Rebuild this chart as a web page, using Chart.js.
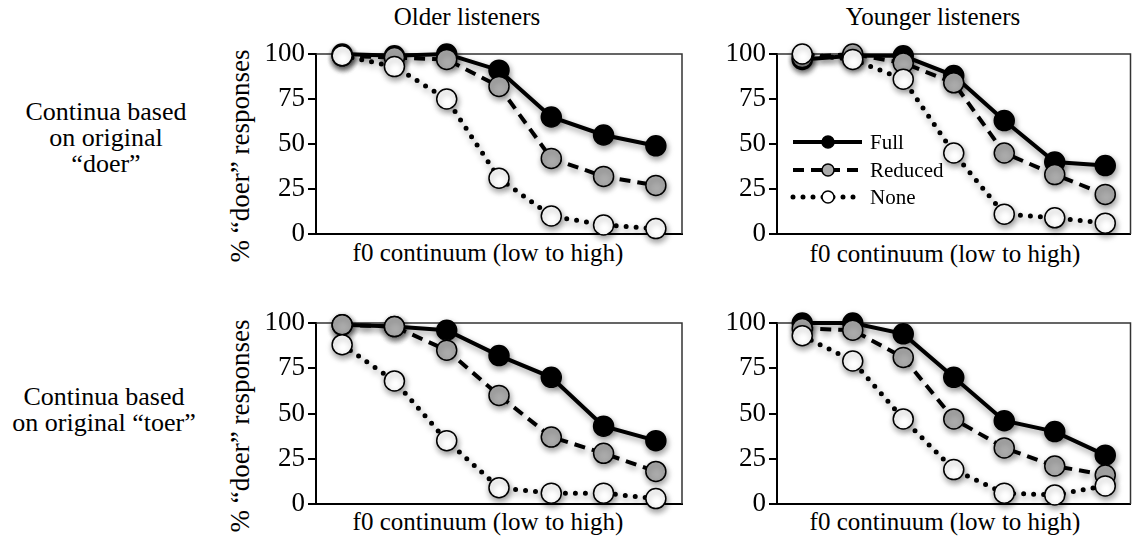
<!DOCTYPE html>
<html>
<head>
<meta charset="utf-8">
<script src="https://cdn.jsdelivr.net/npm/chart.js@4.4.0/dist/chart.umd.min.js"></script>
<style>
body{margin:0;background:#fff;width:1142px;height:541px;position:relative;overflow:hidden;font-family:"Liberation Serif","Times New Roman",serif;color:#000}
canvas{position:absolute}
.lbl{position:absolute;font-size:26px;line-height:26px;text-align:center;white-space:nowrap;transform:translateX(-50%)}
.col{position:absolute;font-size:25px;line-height:27px;white-space:nowrap;transform:translateX(-50%)}
.xtitle{position:absolute;font-size:25px;line-height:30px;white-space:nowrap;transform:translate(-50%,-50%)}
.ytitle{position:absolute;font-size:27px;line-height:30px;white-space:nowrap;transform:translate(-50%,-50%) rotate(-90deg)}
</style>
</head>
<body>
<div class="col" style="left:467px;top:3px">Older listeners</div>
<div class="col" style="left:933px;top:3px">Younger listeners</div>
<div class="lbl" style="left:106px;top:99px">Continua based<br>on original<br>“doer”</div>
<div class="lbl" style="left:104px;top:384px">Continua based<br>on original “toer”</div>
<div class="ytitle" style="left:240px;top:156px">% “doer” responses</div>
<div class="ytitle" style="left:240px;top:426px">% “doer” responses</div>
<div class="xtitle" style="left:488px;top:253px">f0 continuum (low to high)</div>
<div class="xtitle" style="left:945px;top:254px">f0 continuum (low to high)</div>
<div class="xtitle" style="left:488px;top:522px">f0 continuum (low to high)</div>
<div class="xtitle" style="left:945px;top:522px">f0 continuum (low to high)</div>

<canvas id="c1" width="460" height="240" style="left:240px;top:30px"></canvas>
<canvas id="c2" width="442" height="240" style="left:700px;top:30px"></canvas>
<canvas id="c3" width="460" height="241" style="left:240px;top:300px"></canvas>
<canvas id="c4" width="442" height="241" style="left:700px;top:300px"></canvas>

<script>
// f0 continuum steps (tick labels are hidden in the figure)
var steps = ['1', '2', '3', '4', '5', '6', '7'];
var yTicks = [0, 25, 50, 75, 100];

// continua based on original "doer"
var olderDoerFull    = [100, 99, 100, 91, 65, 55, 49];
var olderDoerReduced = [99, 98, 97, 82, 42, 32, 27];
var olderDoerNone    = [99, 93, 75, 31, 10, 5, 3];

var youngerDoerFull    = [97, 99, 99, 88, 63, 40, 38];
var youngerDoerReduced = [98, 100, 95, 84, 45, 33, 22];
var youngerDoerNone    = [100, 97, 86, 45, 11, 9, 6];

// continua based on original "toer"
var olderToerFull    = [99, 98, 96, 82, 70, 43, 35];
var olderToerReduced = [99, 98, 85, 60, 37, 28, 18];
var olderToerNone    = [88, 68, 35, 9, 6, 6, 3];

var youngerToerFull    = [100, 100, 94, 70, 46, 40, 27];
var youngerToerReduced = [97, 96, 81, 47, 31, 21, 16];
var youngerToerNone    = [93, 79, 47, 19, 6, 5, 10];

var seriesNames = ['Full', 'Reduced', 'None'];

Chart.defaults.font.family = '"Liberation Serif", "Times New Roman", serif';
Chart.defaults.color = '#000';

var styles = [
  {fill: '#000000', dash: [], cap: 'butt', width: 4, order: 2},
  {fill: '#ababab', dash: [11, 7], cap: 'butt', width: 4, order: 1},
  {fill: '#ffffff', dash: [0, 10], cap: 'round', width: 5, order: 0}
];

// top + right frame lines, and soft shadow under the marks
var framePlugin = {
  id: 'frame',
  beforeDatasetsDraw: function(chart) {
    var ctx = chart.ctx, a = chart.chartArea;
    ctx.save();
    ctx.strokeStyle = '#333';
    ctx.lineWidth = 1.5;
    ctx.beginPath();
    ctx.moveTo(a.left, a.top);
    ctx.lineTo(a.right, a.top);
    ctx.lineTo(a.right, a.bottom);
    ctx.stroke();
    ctx.restore();
    ctx.save();
    ctx.shadowColor = 'rgba(0,0,0,0.4)';
    ctx.shadowBlur = 6;
    ctx.shadowOffsetX = 1;
    ctx.shadowOffsetY = 3;
  },
  afterDatasetsDraw: function(chart) {
    chart.ctx.restore();
  }
};

// legend drawn inside the plot (top-right panel only)
var inlineLegend = {
  id: 'inlineLegend',
  afterDraw: function(chart) {
    var ctx = chart.ctx;
    var x0 = 93, x1 = 162, xm = 128, tx = 170;
    var rows = [112, 140, 167];
    chart.data.datasets.forEach(function(ds, i) {
      var y = rows[i];
      ctx.save();
      ctx.strokeStyle = '#000';
      ctx.lineWidth = ds.borderWidth;
      ctx.setLineDash(ds.borderDash);
      ctx.lineCap = ds.borderCapStyle;
      ctx.beginPath();
      ctx.moveTo(x0, y);
      ctx.lineTo(x1, y);
      ctx.stroke();
      ctx.setLineDash([]);
      ctx.beginPath();
      ctx.arc(xm, y, 6, 0, Math.PI * 2);
      ctx.fillStyle = ds.pointBackgroundColor;
      ctx.fill();
      ctx.lineWidth = 1.5;
      ctx.stroke();
      ctx.fillStyle = '#000';
      ctx.font = '21px "Liberation Serif", "Times New Roman", serif';
      ctx.textBaseline = 'middle';
      ctx.textAlign = 'left';
      ctx.fillText(ds.label, tx, y + 1);
      ctx.restore();
    });
  }
};

function makeChart(id, series, pad, yWidth, withLegend) {
  var datasets = series.map(function(vals, i) {
    var s = styles[i];
    return {
      label: seriesNames[i],
      data: vals,
      order: s.order,
      clip: false,
      borderColor: '#000',
      borderWidth: s.width,
      borderDash: s.dash,
      borderCapStyle: s.cap,
      pointRadius: 10,
      pointHoverRadius: 10,
      pointBackgroundColor: s.fill,
      pointBorderColor: '#000',
      pointBorderWidth: 1.5,
      tension: 0
    };
  });
  return new Chart(document.getElementById(id), {
    type: 'line',
    data: {labels: steps, datasets: datasets},
    plugins: withLegend ? [framePlugin, inlineLegend] : [framePlugin],
    options: {
      responsive: false,
      animation: false,
      layout: {padding: pad},
      plugins: {legend: {display: false}, tooltip: {enabled: false}},
      scales: {
        x: {
          type: 'category',
          offset: true,
          grid: {display: false},
          border: {display: true, color: '#000', width: 2},
          ticks: {display: false},
          afterFit: function(scale) { scale.height = 36; }
        },
        y: {
          min: 0,
          max: 100,
          afterBuildTicks: function(scale) {
            scale.ticks = yTicks.map(function(v) { return {value: v}; });
          },
          grid: {drawOnChartArea: false, tickLength: 8, color: '#000', lineWidth: 2},
          border: {display: true, color: '#000', width: 2},
          ticks: {font: {size: 27}, padding: 3, color: '#000'},
          afterFit: function(scale) { scale.width = yWidth; }
        }
      }
    }
  });
}

makeChart('c1', [olderDoerFull, olderDoerReduced, olderDoerNone], {top: 24, right: 18, bottom: 0, left: 0}, 76, false);
makeChart('c2', [youngerDoerFull, youngerDoerReduced, youngerDoerNone], {top: 24, right: 1, bottom: 0, left: 0}, 77, true);
makeChart('c3', [olderToerFull, olderToerReduced, olderToerNone], {top: 23, right: 18, bottom: 1, left: 0}, 76, false);
makeChart('c4', [youngerToerFull, youngerToerReduced, youngerToerNone], {top: 23, right: 1, bottom: 1, left: 0}, 77, false);
</script>
</body>
</html>
